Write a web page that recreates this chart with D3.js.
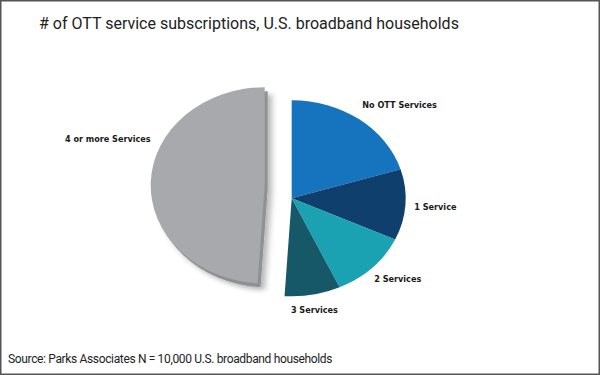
<!DOCTYPE html>
<html>
<head>
<meta charset="utf-8">
<script src="https://cdn.jsdelivr.net/npm/d3@7"></script>
<style>
	body { margin: 0; background: #fff; }
	svg { display: block; }
</style>
</head>
<body>
<svg id="chart" width="600" height="375"></svg>
<script>
const categories = ["No OTT Services", "1 Service", "2 Services", "3 Services", "4 or more Services"];
const shares = [20.2, 11.7, 11.2, 7.9, 49.0];
const colors = ["#1574bd", "#0e3f6d", "#1aa2b2", "#165868", "#a8a9ad"];
const titleText = "# of OTT service subscriptions, U.S. broadband households";
const sourceText = "Source: Parks Associates N = 10,000 U.S. broadband households";

// layout
const width = 600;
const height = 375;
const cx = 291.7;
const cy = 198.3;
const radius = 114;
const squash = 0.86; // the picture is a bit wider than tall
const explode = { dx: -27, dy: -13 };
const labelRadius = 150;
const labelNudge = [[19, 10], [-6, 0], [0, -11], [-5, -15], [-7, -42]];

const svg = d3.select("#chart");

// soft shadow for the pulled-out slice
const defs = svg.append("defs");
const shadow = defs.append("filter").attr("id", "shadow").attr("x", "-20%").attr("y", "-20%").attr("width", "150%").attr("height", "150%");
shadow.append("feGaussianBlur").attr("in", "SourceAlpha").attr("stdDeviation", 3);
shadow.append("feOffset").attr("dx", 4).attr("dy", 3).attr("result", "blur");
shadow.append("feComponentTransfer").append("feFuncA").attr("type", "linear").attr("slope", 0.3);
const merge = shadow.append("feMerge");
merge.append("feMergeNode");
merge.append("feMergeNode").attr("in", "SourceGraphic");

svg.append("rect")
	.attr("x", 0.75)
	.attr("y", 0.75)
	.attr("width", width - 1.5)
	.attr("height", height - 1.5)
	.attr("fill", "#fff")
	.attr("stroke", "#555")
	.attr("stroke-width", 1.5);

svg.append("text")
	.attr("x", 39)
	.attr("y", 23)
	.attr("dy", "0.35em")
	.attr("font-family", "Roboto")
	.attr("font-size", "16px")
	.attr("fill", "#222")
	.text(titleText);

svg.append("text")
	.attr("x", 8)
	.attr("y", 359)
	.attr("dy", "0.35em")
	.attr("font-family", "Roboto")
	.attr("font-size", "12px")
	.attr("letter-spacing", "-0.35px")
	.attr("fill", "#222")
	.text(sourceText);

const pie = d3.pie().sort(null).value((d) => d)(shares);
const arc = d3.arc().innerRadius(0).outerRadius(radius);
const labelArc = d3.arc().innerRadius(labelRadius).outerRadius(labelRadius);

const last = pie.length - 1;

pie.forEach((slice, i) => {
	const ox = i === last ? explode.dx : 0;
	const oy = i === last ? explode.dy : 0;
	const g = svg.append("g").attr("transform", `translate(${cx + ox},${cy + oy})`);

	if (i === last) {
		// thickness under the gray slice
		g.append("path")
			.attr("transform", `translate(3,4) scale(1,${squash})`)
			.attr("d", arc(slice))
			.attr("fill", "#909195")
			.attr("filter", "url(#shadow)");
	}

	g.append("path")
		.attr("transform", `scale(1,${squash})`)
		.attr("d", arc(slice))
		.attr("fill", colors[i]);

	const [lx, ly] = labelArc.centroid(slice);
	g.append("text")
		.attr("x", lx + labelNudge[i][0])
		.attr("y", ly * squash + labelNudge[i][1])
		.attr("dy", "0.35em")
		.attr("text-anchor", "middle")
		.attr("font-family", "'DejaVu Sans Condensed', 'DejaVu Sans', sans-serif")
		.attr("font-stretch", "condensed")
		.attr("font-weight", "bold")
		.attr("font-size", "9px")
		.attr("fill", "#1a1a1a")
		.text(categories[i]);
});
</script>
</body>
</html>
